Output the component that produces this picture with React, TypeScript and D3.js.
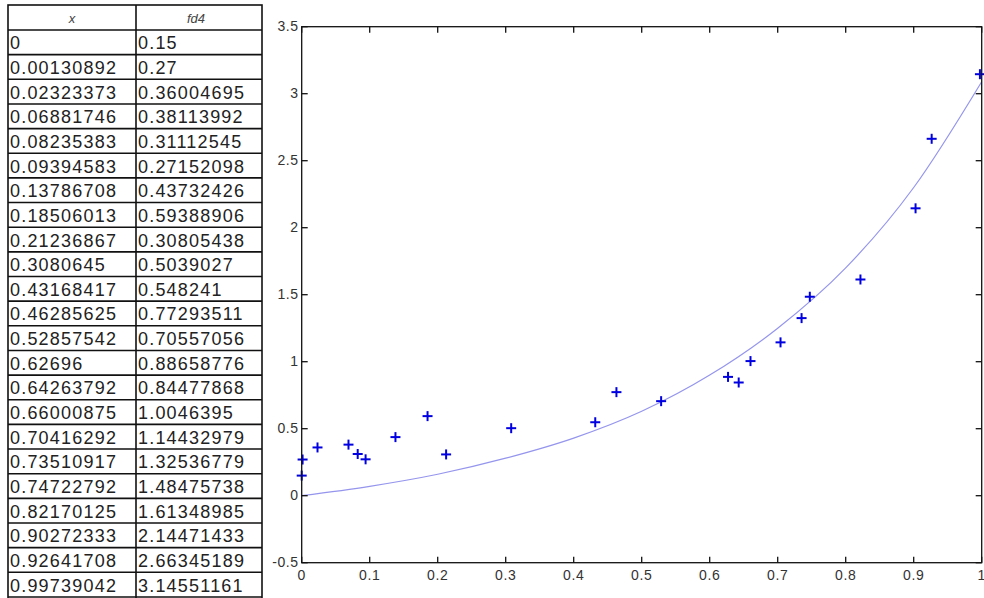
import React from "react";
import * as d3 from "d3";

const xValues: number[] = [
  0, 0.00130892, 0.02323373, 0.06881746, 0.08235383, 0.09394583, 0.13786708,
  0.18506013, 0.21236867, 0.3080645, 0.43168417, 0.46285625, 0.52857542,
  0.62696, 0.64263792, 0.66000875, 0.70416292, 0.73510917, 0.74722792,
  0.82170125, 0.90272333, 0.92641708, 0.99739042,
];
const fd4Values: number[] = [
  0.15, 0.27, 0.36004695, 0.38113992, 0.31112545, 0.27152098, 0.43732426,
  0.59388906, 0.30805438, 0.5039027, 0.548241, 0.77293511, 0.70557056,
  0.88658776, 0.84477868, 1.0046395, 1.14432979, 1.32536779, 1.48475738,
  1.61348985, 2.14471433, 2.66345189, 3.14551161,
];
const tableHeaders: string[] = ["x", "fd4"];
const fitX: number[] = [0, 0.1, 0.2, 0.3, 0.4, 0.5, 0.6, 0.7, 0.8, 0.9, 1.0];
const fitY: number[] = [0, 0.07, 0.16, 0.28, 0.43, 0.63, 0.9, 1.25, 1.7, 2.3, 3.09];
const xTicks: number[] = [0, 0.1, 0.2, 0.3, 0.4, 0.5, 0.6, 0.7, 0.8, 0.9, 1];
const yTicks: number[] = [-0.5, 0, 0.5, 1, 1.5, 2, 2.5, 3, 3.5];

const W = 984;
const H = 598;

export default function App() {
  // table geometry
  const tLeft = 8;
  const tMid = 136;
  const tRight = 262;
  const tTop = 5;
  const headH = 25;
  const rowH = 24.65;
  const rowY = (i: number) => tTop + headH + i * rowH;

  // plot geometry
  const pL = 301.7;
  const pR = 981.7;
  const pT = 26.7;
  const pB = 562.7;
  const x = d3.scaleLinear().domain([0, 1]).range([pL, pR]);
  const y = d3.scaleLinear().domain([-0.5, 3.5]).range([pB, pT]);

  const fitPts: [number, number][] = fitX.map((v, i) => [v, fitY[i]]);
  const fitLine = d3
    .line<[number, number]>()
    .x((d) => x(d[0]))
    .y((d) => y(d[1]))
    .curve(d3.curveMonotoneX)(fitPts);

  const tableFont = "'Liberation Sans', Arial, sans-serif";
  const tickLen = 6;
  const arm = 5;

  return (
    <svg
      width={W}
      height={H}
      style={{ position: "absolute", left: 0, top: 0, background: "#fff" }}
    >
      <rect x={0} y={0} width={W} height={H} fill="#fff" />
      {/* Table */}
      <g>
        <rect
          x={tLeft}
          y={tTop}
          width={tRight - tLeft}
          height={H + 20}
          fill="#fff"
          stroke="#111"
          strokeWidth={1.6}
        />
        <line x1={tMid} x2={tMid} y1={tTop} y2={H + 20} stroke="#111" strokeWidth={1.6} />
        {d3.range(xValues.length + 1).map((i) => (
          <line
            key={"hl" + i}
            x1={tLeft}
            x2={tRight}
            y1={rowY(i)}
            y2={rowY(i)}
            stroke="#111"
            strokeWidth={1.6}
          />
        ))}
        {tableHeaders.map((h, i) => (
          <text
            key={"h" + i}
            x={i === 0 ? (tLeft + tMid) / 2 : (tMid + tRight) / 2 - 3}
            y={tTop + headH / 2 + 1}
            textAnchor="middle"
            dominantBaseline="central"
            fontFamily={tableFont}
            fontStyle="italic"
            fontSize={13}
            fill="#444"
          >
            {h}
          </text>
        ))}
        {xValues.map((v, i) => (
          <text
            key={"cx" + i}
            x={tLeft + 2}
            y={rowY(i) + rowH / 2 + 1}
            dominantBaseline="central"
            fontFamily={tableFont}
            fontSize={18}
            letterSpacing={1.2}
            fill="#222"
          >
            {String(v)}
          </text>
        ))}
        {fd4Values.map((v, i) => (
          <text
            key={"cy" + i}
            x={tMid + 2}
            y={rowY(i) + rowH / 2 + 1}
            dominantBaseline="central"
            fontFamily={tableFont}
            fontSize={18}
            letterSpacing={1.2}
            fill="#222"
          >
            {String(v)}
          </text>
        ))}
      </g>

      {/* Plot */}
      <g>
        <path d={fitLine || ""} fill="none" stroke="#9595ee" strokeWidth={1.2} />
        {xValues.map((v, i) => (
          <g key={"m" + i} stroke="#0000e0" strokeWidth={2}>
            <line x1={x(v) - arm} x2={x(v) + arm} y1={y(fd4Values[i])} y2={y(fd4Values[i])} />
            <line x1={x(v)} x2={x(v)} y1={y(fd4Values[i]) - arm} y2={y(fd4Values[i]) + arm} />
          </g>
        ))}
        <rect
          x={pL}
          y={pT}
          width={pR - pL}
          height={pB - pT}
          fill="none"
          stroke="#111"
          strokeWidth={1.3}
        />
        {xTicks.map((t, i) => (
          <g key={"xt" + i} stroke="#111" strokeWidth={1.3}>
            <line x1={x(t)} x2={x(t)} y1={pB} y2={pB - tickLen} />
            <line x1={x(t)} x2={x(t)} y1={pT} y2={pT + tickLen} />
          </g>
        ))}
        {yTicks.map((t, i) => (
          <g key={"yt" + i} stroke="#111" strokeWidth={1.3}>
            <line x1={pL} x2={pL + tickLen} y1={y(t)} y2={y(t)} />
            <line x1={pR} x2={pR - tickLen} y1={y(t)} y2={y(t)} />
          </g>
        ))}
        {xTicks.map((t, i) => (
          <text
            key={"xl" + i}
            x={x(t)}
            y={pB + 12}
            textAnchor="middle"
            dominantBaseline="central"
            fontFamily={tableFont}
            fontSize={14}
            letterSpacing={0.6}
            fill="#333"
          >
            {String(t)}
          </text>
        ))}
        {yTicks.map((t, i) => (
          <text
            key={"yl" + i}
            x={pL - 3}
            y={y(t) - 1}
            textAnchor="end"
            dominantBaseline="central"
            fontFamily={tableFont}
            fontSize={14}
            letterSpacing={0.6}
            fill="#333"
          >
            {String(t)}
          </text>
        ))}
      </g>
    </svg>
  );
}
